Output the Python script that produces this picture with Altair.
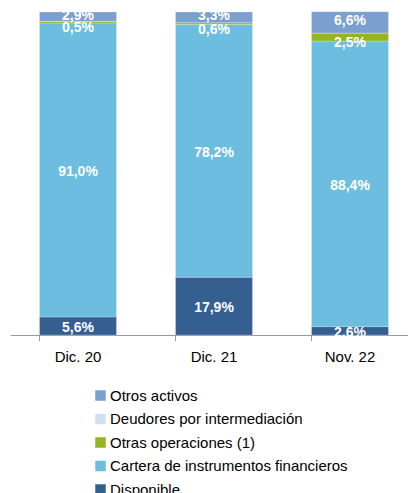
import altair as alt
import pandas as pd

periods = ["Dic. 20", "Dic. 21", "Nov. 22"]
series = ["Disponible", "Cartera de instrumentos financieros", "Otras operaciones (1)",
          "Deudores por intermediación", "Otros activos"]
colors = ["#355f91", "#6cbde0", "#94b51f", "#d3dff0", "#7b9fcf"]
disponible = [5.6, 17.9, 2.6]
cartera = [91.0, 78.2, 88.4]
otras = [0.5, 0.6, 2.5]
deudores = [0.0, 0.0, 0.0]
otros = [2.9, 3.3, 6.6]

vals = [disponible, cartera, otras, deudores, otros]
rows = []
for si, s in enumerate(series):
    for pi, p in enumerate(periods):
        v = vals[si][pi]
        rows.append({"period": p, "series": s, "value": v, "ord": si,
                     "label": (f"{v:.1f}".replace(".", ",") + "%") if v > 0 else ""})
df = pd.DataFrame(rows)

FONT = "Liberation Sans"
legend_order = list(reversed(series))
legend_colors = list(reversed(colors))

xscale = alt.Scale(paddingInner=0.434, paddingOuter=0.217, range=[0, 408])

xenc = alt.X("period:N", sort=periods, scale=xscale,
             axis=alt.Axis(title=None, labelAngle=0, ticks=False, domain=True,
                           domainColor="#9a9a9a", domainWidth=1,
                           labelFont=FONT, labelFontSize=15, labelColor="#000000",
                           labelPadding=14))

base = alt.Chart(df)

bars = base.mark_bar(stroke="#ffffff", strokeWidth=0.4, strokeOpacity=0.6).encode(
    x=xenc,
    y=alt.Y("value:Q", stack="zero", scale=alt.Scale(domain=[0, 100], nice=False),
            axis=None),
    color=alt.Color("series:N",
                    scale=alt.Scale(domain=legend_order, range=legend_colors),
                    legend=alt.Legend(title=None, orient="none", legendX=83, legendY=376,
                                      symbolType="square", symbolSize=110,
                                      symbolStrokeWidth=0, labelLimit=400,
                                      labelFont=FONT, labelFontSize=15,
                                      labelColor="#000000", rowPadding=7.5,
                                      labelOffset=2)),
    order=alt.Order("ord:Q", sort="ascending"),
)

stacked = base.transform_stack(
    stack="value", groupby=["period"], as_=["y0", "y1"],
    sort=[alt.SortField("ord", order="ascending")]
).transform_calculate(mid="(datum.y0 + datum.y1) / 2").transform_filter("datum.value > 0")

def label_layer(filt, dy):
    return stacked.transform_filter(filt).mark_text(
        color="white", font=FONT, fontWeight="bold", fontSize=14, baseline="middle", dy=dy
    ).encode(
        x=alt.X("period:N", sort=periods),
        y=alt.Y("mid:Q"),
        text="label:N",
    )

lab_main = label_layer("datum.ord <= 1", 2)
lab_otras = label_layer("datum.ord == 2", 6)
lab_otros = label_layer("datum.ord == 4", -1)

ticks = alt.Chart(pd.DataFrame({"period": periods})).mark_rule(
    color="#9a9a9a", strokeWidth=1
).encode(
    x=alt.X("period:N", sort=periods, bandPosition=0),
    y=alt.value(323),
    y2=alt.value(329),
)

chart = alt.layer(bars, lab_main, lab_otras, lab_otros, ticks).properties(
    width=398, height=323,
    padding={"left": 2, "top": 4, "right": 0, "bottom": 160},
    autosize=alt.AutoSizeParams(type="none"),
).configure_view(stroke=None)

chart.save("out.html", embed_options={"renderer": "svg", "actions": False})
